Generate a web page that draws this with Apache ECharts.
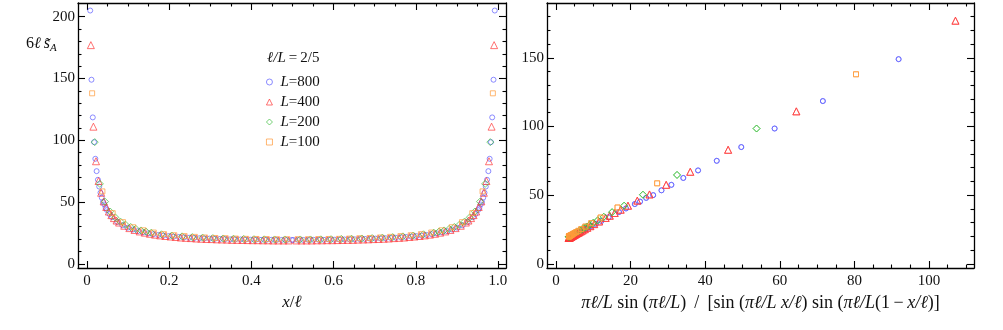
<!DOCTYPE html>
<html>
<head>
<meta charset="utf-8">
<script src="https://cdn.jsdelivr.net/npm/echarts@6/dist/echarts.min.js"></script>
<style>
  html, body { margin: 0; padding: 0; background: #fff; }
  #chart { width: 1003px; height: 330px; }
</style>
</head>
<body>
<div id="chart"></div>
<script>
// Entanglement profile at l/L = 2/5 for four chain sizes.
// Each point: [x/l, pi l/L sin(pi l/L)/[sin(..x/l) sin(..(1-x/l))], 6 l s_A]

const L800 = [
  [0.0078, 128.4, 205], [0.0109, 91.85, 149], [0.0141, 71.54, 118.5], [0.0172, 58.61, 98.5],
  [0.0203, 49.67, 85], [0.0234, 43.10, 75], [0.0266, 38.09, 68], [0.0297, 34.13, 62.5],
  [0.0328, 30.93, 57.5], [0.0359, 28.28, 53.5], [0.0391, 26.06, 50], [0.0422, 24.17, 48],
  [0.0453, 22.53, 45.3], [0.0484, 21.12, 43.5], [0.0547, 18.76, 40.3], [0.0609, 16.90, 37.7],
  [0.0734, 14.12, 33.9], [0.0859, 12.16, 31.2], [0.0984, 10.70, 29.2], [0.1109, 9.59, 27.7],
  [0.1234, 8.67, 26.4], [0.1359, 7.95, 25.4], [0.1484, 7.36, 24.6], [0.1609, 6.84, 23.9],
  [0.1734, 6.41, 23.3], [0.1859, 6.05, 22.8], [0.1984, 5.73, 22.4], [0.2109, 5.45, 22.0],
  [0.2234, 5.21, 21.7], [0.2359, 4.99, 21.4], [0.2484, 4.80, 21.1], [0.2609, 4.63, 20.9],
  [0.2734, 4.48, 20.7], [0.2859, 4.35, 20.5], [0.2984, 4.23, 20.4], [0.3109, 4.12, 20.2],
  [0.3234, 4.02, 20.1], [0.3359, 3.94, 20.0], [0.3484, 3.86, 19.8], [0.3609, 3.79, 19.8],
  [0.3734, 3.73, 19.7], [0.3859, 3.68, 19.6], [0.3984, 3.63, 19.5], [0.4109, 3.59, 19.5],
  [0.4234, 3.55, 19.4], [0.4359, 3.53, 19.4], [0.4484, 3.50, 19.4], [0.4609, 3.48, 19.3],
  [0.4734, 3.47, 19.3], [0.4859, 3.46, 19.3], [0.4984, 3.46, 19.3],
  [0.5016, 3.46, 19.3], [0.5141, 3.46, 19.3], [0.5266, 3.47, 19.3], [0.5391, 3.48, 19.3],
  [0.5516, 3.50, 19.4], [0.5641, 3.53, 19.4], [0.5766, 3.55, 19.4], [0.5891, 3.59, 19.5],
  [0.6016, 3.63, 19.5], [0.6141, 3.68, 19.6], [0.6266, 3.73, 19.7], [0.6391, 3.79, 19.8],
  [0.6516, 3.86, 19.8], [0.6641, 3.94, 20.0], [0.6766, 4.02, 20.1], [0.6891, 4.12, 20.2],
  [0.7016, 4.23, 20.4], [0.7141, 4.35, 20.5], [0.7266, 4.48, 20.7], [0.7391, 4.63, 20.9],
  [0.7516, 4.80, 21.1], [0.7641, 4.99, 21.4], [0.7766, 5.21, 21.7], [0.7891, 5.45, 22.0],
  [0.8016, 5.73, 22.4], [0.8141, 6.05, 22.8], [0.8266, 6.41, 23.3], [0.8391, 6.84, 23.9],
  [0.8516, 7.36, 24.6], [0.8641, 7.95, 25.4], [0.8766, 8.67, 26.4], [0.8891, 9.59, 27.7],
  [0.9016, 10.70, 29.2], [0.9141, 12.16, 31.2], [0.9266, 14.12, 33.9], [0.9391, 16.90, 37.7],
  [0.9453, 18.76, 40.3], [0.9516, 21.12, 43.5], [0.9547, 22.53, 45.3], [0.9578, 24.17, 48],
  [0.9609, 26.06, 50], [0.9641, 28.28, 53.5], [0.9672, 30.93, 57.5], [0.9703, 34.13, 62.5],
  [0.9734, 38.09, 68], [0.9766, 43.10, 75], [0.9797, 49.67, 85], [0.9828, 58.61, 98.5],
  [0.9859, 71.54, 118.5], [0.9891, 91.85, 149], [0.9922, 128.4, 205]
];

const L400 = [
  [0.0094, 107.09, 177], [0.0156, 64.43, 111], [0.0219, 46.15, 83], [0.0281, 36.00, 67],
  [0.0344, 29.54, 57.5], [0.0406, 25.07, 50.5], [0.0469, 21.80, 46.0], [0.0531, 19.30, 42.3],
  [0.0594, 17.33, 39.4], [0.0656, 15.73, 37.0], [0.0719, 14.41, 35.0], [0.0781, 13.31, 33.4],
  [0.0906, 11.56, 30.8], [0.1031, 10.24, 28.9], [0.1156, 9.21, 27.4], [0.1281, 8.38, 26.2],
  [0.1406, 7.71, 25.2], [0.1531, 7.15, 24.3], [0.1656, 6.67, 23.6], [0.1781, 6.27, 23.0],
  [0.1906, 5.92, 22.5], [0.2031, 5.62, 22.1], [0.2156, 5.36, 21.7], [0.2281, 5.12, 21.3],
  [0.2406, 4.92, 21.0], [0.2531, 4.74, 20.8], [0.2656, 4.58, 20.5], [0.2781, 4.43, 20.3],
  [0.2906, 4.30, 20.1], [0.3031, 4.19, 20.0], [0.3156, 4.08, 19.8], [0.3281, 3.99, 19.7],
  [0.3406, 3.91, 19.6], [0.3531, 3.83, 19.4], [0.3656, 3.77, 19.4], [0.3781, 3.71, 19.3],
  [0.3906, 3.66, 19.2], [0.4031, 3.61, 19.1], [0.4156, 3.58, 19.1], [0.4281, 3.54, 19.0],
  [0.4406, 3.52, 19.0], [0.4531, 3.49, 18.9], [0.4656, 3.48, 18.9], [0.4781, 3.47, 18.9],
  [0.4906, 3.46, 18.9],
  [0.5094, 3.46, 18.9], [0.5219, 3.47, 18.9], [0.5344, 3.48, 18.9], [0.5469, 3.49, 18.9],
  [0.5594, 3.52, 19.0], [0.5719, 3.54, 19.0], [0.5844, 3.58, 19.1], [0.5969, 3.61, 19.1],
  [0.6094, 3.66, 19.2], [0.6219, 3.71, 19.3], [0.6344, 3.77, 19.4], [0.6469, 3.83, 19.4],
  [0.6594, 3.91, 19.6], [0.6719, 3.99, 19.7], [0.6844, 4.08, 19.8], [0.6969, 4.19, 20.0],
  [0.7094, 4.30, 20.1], [0.7219, 4.43, 20.3], [0.7344, 4.58, 20.5], [0.7469, 4.74, 20.8],
  [0.7594, 4.92, 21.0], [0.7719, 5.12, 21.3], [0.7844, 5.36, 21.7], [0.7969, 5.62, 22.1],
  [0.8094, 5.92, 22.5], [0.8219, 6.27, 23.0], [0.8344, 6.67, 23.6], [0.8469, 7.15, 24.3],
  [0.8594, 7.71, 25.2], [0.8719, 8.38, 26.2], [0.8844, 9.21, 27.4], [0.8969, 10.24, 28.9],
  [0.9094, 11.56, 30.8], [0.9219, 13.31, 33.4], [0.9281, 14.41, 35.0], [0.9344, 15.73, 37.0],
  [0.9406, 17.33, 39.4], [0.9469, 19.30, 42.3], [0.9531, 21.80, 46.0], [0.9594, 25.07, 50.5],
  [0.9656, 29.54, 57.5], [0.9719, 36.00, 67], [0.9781, 46.15, 83], [0.9844, 64.43, 111],
  [0.9906, 107.09, 177]
];

const L200 = [
  [0.0188, 53.77, 98.5], [0.0313, 32.45, 64.7], [0.0438, 23.32, 50.3], [0.0563, 18.26, 42.3],
  [0.0688, 15.04, 37.6], [0.0813, 12.82, 34.2], [0.0938, 11.20, 31.7], [0.1063, 9.96, 29.8],
  [0.1188, 8.99, 28.3], [0.1313, 8.20, 27.0], [0.1438, 7.56, 26.1], [0.1563, 7.02, 25.2],
  [0.1813, 6.18, 23.9], [0.2063, 5.55, 22.9], [0.2313, 5.07, 22.2], [0.2563, 4.70, 21.6],
  [0.2813, 4.40, 21.2], [0.3063, 4.16, 20.8], [0.3313, 3.97, 20.5], [0.3563, 3.82, 20.3],
  [0.3813, 3.70, 20.1], [0.4063, 3.60, 19.9], [0.4313, 3.54, 19.8], [0.4563, 3.49, 19.7],
  [0.4813, 3.47, 19.7],
  [0.5188, 3.47, 19.7], [0.5438, 3.49, 19.7], [0.5688, 3.54, 19.8], [0.5938, 3.60, 19.9],
  [0.6188, 3.70, 20.1], [0.6438, 3.82, 20.3], [0.6688, 3.97, 20.5], [0.6938, 4.16, 20.8],
  [0.7188, 4.40, 21.2], [0.7438, 4.70, 21.6], [0.7688, 5.07, 22.2], [0.7938, 5.55, 22.9],
  [0.8188, 6.18, 23.9], [0.8438, 7.02, 25.2], [0.8563, 7.56, 26.1], [0.8688, 8.20, 27.0],
  [0.8813, 8.99, 28.3], [0.8938, 9.96, 29.8], [0.9063, 11.20, 31.7], [0.9188, 12.82, 34.2],
  [0.9313, 15.04, 37.6], [0.9438, 18.26, 42.3], [0.9563, 23.32, 50.3], [0.9688, 32.45, 64.7],
  [0.9813, 53.77, 98.5]
];

const L100 = [
  [0.0125, 80.43, 138], [0.0375, 27.12, 58.6], [0.0625, 16.49, 41.0], [0.0875, 11.95, 33.7],
  [0.1125, 9.45, 29.6], [0.1375, 7.87, 27.1], [0.1625, 6.79, 25.3], [0.1875, 6.01, 24.0],
  [0.2125, 5.42, 23.1], [0.2375, 4.97, 22.4], [0.2625, 4.61, 21.8], [0.2875, 4.33, 21.3],
  [0.3125, 4.11, 20.9], [0.3375, 3.93, 20.7], [0.3625, 3.78, 20.4], [0.3875, 3.67, 20.2],
  [0.4125, 3.58, 20.1], [0.4375, 3.52, 20.0], [0.4625, 3.48, 19.9], [0.4875, 3.46, 19.9],
  [0.5125, 3.46, 19.9], [0.5375, 3.48, 19.9], [0.5625, 3.52, 20.0], [0.5875, 3.58, 20.1],
  [0.6125, 3.67, 20.2], [0.6375, 3.78, 20.4], [0.6625, 3.93, 20.7], [0.6875, 4.11, 20.9],
  [0.7125, 4.33, 21.3], [0.7375, 4.61, 21.8], [0.7625, 4.97, 22.4], [0.7875, 5.42, 23.1],
  [0.8125, 6.01, 24.0], [0.8375, 6.79, 25.3], [0.8625, 7.87, 27.1], [0.8875, 9.45, 29.6],
  [0.9125, 11.95, 33.7], [0.9375, 16.49, 41.0], [0.9625, 27.12, 58.6], [0.9875, 80.43, 138]
];

const leftXMajor = [0, 0.2, 0.4, 0.6, 0.8, 1.0];
const leftXMinor = [0.05, 0.1, 0.15, 0.25, 0.3, 0.35, 0.45, 0.5, 0.55, 0.65, 0.7, 0.75, 0.85, 0.9, 0.95];
const leftYMajor = [0, 50, 100, 150, 200];
const leftYMinor = [10, 20, 30, 40, 60, 70, 80, 90, 110, 120, 130, 140, 160, 170, 180, 190];
const rightXMajor = [0, 20, 40, 60, 80, 100];
const rightXMinor = [5, 10, 15, 25, 30, 35, 45, 50, 55, 65, 70, 75, 85, 90, 95, 105, 110];
const rightYMajor = [0, 50, 100, 150];
const rightYMinor = [10, 20, 30, 40, 60, 70, 80, 90, 110, 120, 130, 140, 160, 170, 180];

const SETS = [
  { name: 'L=800', data: L800, symbol: 'circle', size: 5, color: '#5f5fff' },
  { name: 'L=400', data: L400, symbol: 'triangle', size: 7, color: '#ff3a3a' },
  { name: 'L=200', data: L200, symbol: 'diamond', size: 7, color: '#3fbf3f' },
  { name: 'L=100', data: L100, symbol: 'rect', size: 5, color: '#ff9a3a' },
];

const FONT = "'Liberation Serif', 'DejaVu Serif', serif";

// four sides of a framed box: major + minor ticks pointing inward
function frame(dim, grid, min, max, major, minor, fmt) {
  const sides = dim === 'x' ? ['bottom', 'top'] : ['left', 'right'];
  const out = [];
  sides.forEach((pos, s) => {
    [[major, 7], [minor, 3.5]].forEach(([vals, len], k) => {
      out.push({
        type: 'value',
        gridIndex: grid,
        position: pos,
        min, max,
        axisLine: { show: k === 0, onZero: false, lineStyle: { color: '#000', width: 1.3 } },
        axisTick: { show: true, inside: true, length: len, customValues: vals,
          lineStyle: { color: '#000', width: 1.1 } },
        axisLabel: {
          show: s === 0 && k === 0,
          customValues: major,
          formatter: fmt,
          fontFamily: FONT, fontSize: 15, color: '#111',
          margin: dim === 'x' ? 6 : 3,
        },
        splitLine: { show: false },
        minorTick: { show: false },
      });
    });
  });
  return out;
}

const xAxes = [
  ...frame('x', 0, -0.0219, 1.0195, leftXMajor, leftXMinor, v => (v === 0 ? '0' : v.toFixed(1))),
  ...frame('x', 1, -2.41, 112.06, rightXMajor, rightXMinor, v => String(v)),
];
const yAxes = [
  ...frame('y', 0, -3.4, 211.1, leftYMajor, leftYMinor, v => String(v)),
  ...frame('y', 1, -3.06, 189.9, rightYMajor, rightYMinor, v => String(v)),
];

const nameStyle = (size) => ({ fontFamily: FONT, fontSize: size, color: '#111',
  rich: { i: { fontFamily: FONT, fontSize: size, fontStyle: 'italic' } } });

xAxes[0].name = '{i|x}/{i|ℓ}';
xAxes[0].nameLocation = 'middle';
xAxes[0].nameGap = 22;
xAxes[0].nameTextStyle = nameStyle(17);

// extra spaces mimic the math spacing of the original label
xAxes[4].name = '{i|πℓ/L} sin ({i|πℓ/L}) \u2009/\u2009 [sin ({i|πℓ/L x/ℓ}) sin ({i|πℓ/L}(1\u2009−\u2009{i|x/ℓ})]';
xAxes[4].nameLocation = 'middle';
xAxes[4].nameGap = 21;
xAxes[4].nameTextStyle = nameStyle(18);

const series = [];
SETS.forEach(s => {
  const style = { color: 'rgba(0,0,0,0)', borderColor: s.color, borderWidth: 0.9 };
  series.push({
    name: s.name, type: 'scatter', xAxisIndex: 0, yAxisIndex: 0,
    symbol: s.symbol, symbolSize: s.size, itemStyle: style, silent: true,
    data: s.data.map(d => [d[0], d[2]]),
  });
  series.push({
    name: s.name, type: 'scatter', xAxisIndex: 4, yAxisIndex: 4,
    symbol: s.symbol, symbolSize: s.size, itemStyle: style, silent: true,
    data: s.data.map(d => [d[1], d[2]]),
  });
});

const chart = echarts.init(document.getElementById('chart'), null, { renderer: 'canvas' });
chart.setOption({
  animation: false,
  backgroundColor: '#fff',
  grid: [
    { left: 78, top: 3, width: 428, height: 265 },
    { left: 547, top: 3, width: 427, height: 265 },
  ],
  xAxis: xAxes,
  yAxis: yAxes,
  legend: {
    data: SETS.map(s => s.name),
    orient: 'vertical',
    left: 266, top: 74.5,
    padding: 0,
    itemWidth: 6, itemHeight: 6,
    itemGap: 5,
    selectedMode: false,
    itemStyle: { borderWidth: 0.9 },
    formatter: n => '{i|L}=' + n.slice(2),
    textStyle: { fontFamily: FONT, fontSize: 15, color: '#111', lineHeight: 15, padding: [0, 0, 0, 3],
      rich: { i: { fontFamily: FONT, fontSize: 15, fontStyle: 'italic' } } },
  },
  graphic: [
    {
      type: 'text', left: 267, top: 51,
      style: {
        text: '{i|ℓ/L}\u2009=\u20092/5',
        fontFamily: FONT, fontSize: 15, fill: '#111',
        rich: { i: { fontFamily: FONT, fontSize: 15, fontStyle: 'italic' } },
      },
    },
    {
      type: 'text', left: 26, top: 36,
      style: {
        text: '6{i|ℓ\u2009s̃}{s|A}',
        fontFamily: FONT, fontSize: 16, fill: '#111',
        rich: {
          i: { fontFamily: FONT, fontSize: 16, fontStyle: 'italic' },
          s: { fontFamily: FONT, fontSize: 11, fontStyle: 'italic', padding: [9, 0, 0, 0] },
        },
      },
    },
  ],
  series,
});
</script>
</body>
</html>
